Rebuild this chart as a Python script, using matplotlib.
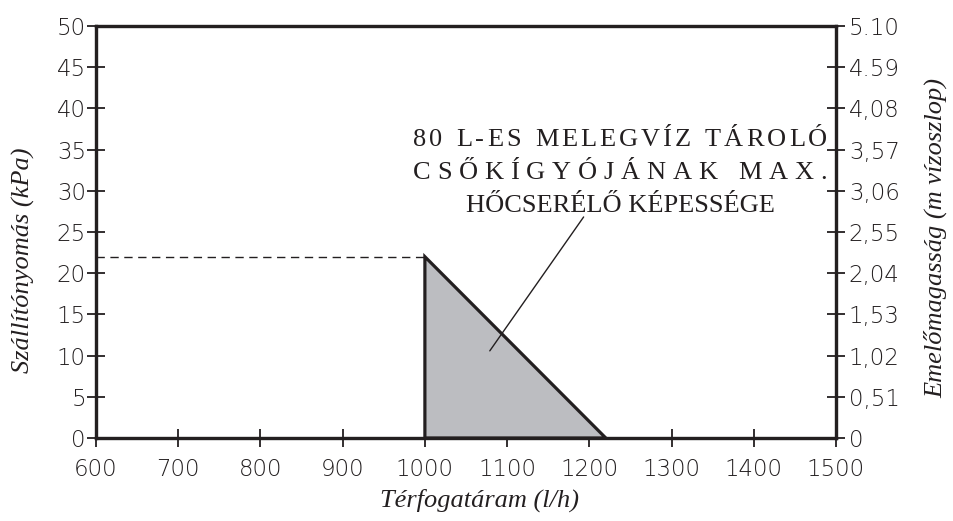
import numpy as np
import matplotlib.pyplot as plt
from matplotlib.font_manager import FontProperties

# Data
flow = [1000, 1000, 1220]        # l/h
pressure = [0, 22, 0]            # kPa
max_pressure = 22
x_ticks = [600, 700, 800, 900, 1000, 1100, 1200, 1300, 1400, 1500]
y_ticks = [0, 5, 10, 15, 20, 25, 30, 35, 40, 45, 50]
head_ticks = [0, 0.51, 1.02, 1.53, 2.04, 2.55, 3.06, 3.57, 4.08, 4.59, 5.10]
head_labels = ['0', '0,51', '1,02', '1,53', '2,04', '2,55', '3,06', '3,57',
               '4,08', '4.59', '5.10']
note_lines = ['80 L-ES MELEGVÍZ TÁROLÓ', 'CSŐKÍGYÓJÁNAK MAX.', 'HŐCSERÉLŐ KÉPESSÉGE']

ink = '#231f20'
W, H = 954, 521
tick_font = {'family': 'DejaVu Sans', 'weight': 'light', 'size': 16.5}
label_fp = FontProperties(family='Liberation Serif', style='italic', size=19)

fig = plt.figure(figsize=(W / 100, H / 100), dpi=100)
ax = fig.add_axes([96 / W, 1 - 438 / H, 740 / W, 412 / H])

# Gray triangle area + dashed max line
ax.fill(flow, pressure, facecolor='#bcbdc1', edgecolor=ink, lw=2.3, joinstyle='miter', zorder=3)
ax.plot([x_ticks[0], flow[1]], [max_pressure, max_pressure], ls=(0, (6, 4)), color=ink, lw=1.0)

ax.set_xlim(x_ticks[0], x_ticks[-1])
ax.set_ylim(y_ticks[0], y_ticks[-1])
ax.set_xticks(x_ticks)
ax.set_yticks(y_ticks)
for s in ax.spines.values():
    s.set_linewidth(2.3)
    s.set_color(ink)
ax.tick_params(axis='both', direction='inout', length=12.5, width=1.3, color=ink)
ax.tick_params(axis='y', pad=1)
ax.tick_params(axis='x', pad=8)
for lbl in ax.get_xticklabels() + ax.get_yticklabels():
    lbl.set_fontproperties(FontProperties(**tick_font))
    lbl.set_color(ink)

ax2 = ax.twinx()
ax2.set_ylim(0, 5.10)
ax2.set_yticks(head_ticks)
ax2.set_yticklabels(head_labels)
for s in ax2.spines.values():
    s.set_linewidth(2.3)
    s.set_color(ink)
ax2.tick_params(axis='y', direction='inout', length=12.5, width=1.3, color=ink, pad=3)
for lbl in ax2.get_yticklabels():
    lbl.set_fontproperties(FontProperties(**tick_font))
    lbl.set_color(ink)

# Axis titles
fig.text(479 / W, 1 - 500 / H, 'Térfogatáram (l/h)', fontproperties=label_fp,
         color=ink, ha='center', va='center')
fig.text(23 / W, 1 - 260 / H, 'Szállítónyomás (kPa)', fontproperties=label_fp,
         color=ink, ha='center', va='center', rotation=90)
fig.text(936 / W, 1 - 238 / H, 'Emelőmagasság (m vízoszlop)', fontproperties=label_fp,
         color=ink, ha='center', va='center', rotation=90)

# Leader line from note into the area
ax.annotate('', xy=(1077, 10.3), xytext=(1195, 27.1),
            arrowprops=dict(arrowstyle='-', color=ink, lw=1.0), zorder=4)

# Note text (letter-spaced, justified lines)
fp = FontProperties(family='Liberation Serif', size=19)
renderer = fig.canvas.get_renderer()


def spaced(text, left, right, base):
    widths = [renderer.get_text_width_height_descent(c if c != ' ' else 'n', fp, ismath=False)[0]
              for c in text]
    widths = [w * 0.6 if c == ' ' else w for w, c in zip(widths, text)]
    gap = (right - left - sum(widths)) / (len(text) - 1)
    x = left
    for c, w in zip(text, widths):
        if c != ' ':
            fig.text(x / W, 1 - base / H, c, fontproperties=fp, color=ink, va='baseline')
        x += w + gap


spaced(note_lines[0], 413, 827, 146)
spaced(note_lines[1], 413, 827, 179)
fig.text(620 / W, 1 - 212 / H, note_lines[2], fontproperties=fp, color=ink,
         ha='center', va='baseline')

fig.savefig('out.png', dpi=100)
